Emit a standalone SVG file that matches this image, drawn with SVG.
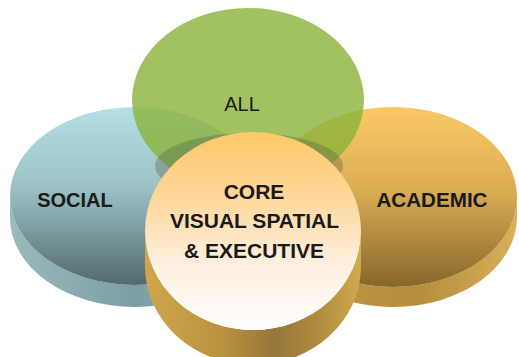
<svg xmlns="http://www.w3.org/2000/svg" width="519" height="357" viewBox="0 0 519 357">
<defs>
<linearGradient id="socTop" x1="0" y1="0" x2="0" y2="1">
<stop offset="0" stop-color="#b4dfe5"/>
<stop offset="0.45" stop-color="#9cc2c6"/>
<stop offset="1" stop-color="#526a6e"/>
</linearGradient>
<linearGradient id="socSide" x1="0" y1="0" x2="1" y2="0">
<stop offset="0" stop-color="#9ab9bd"/>
<stop offset="0.5" stop-color="#7c9ea2"/>
<stop offset="1" stop-color="#9fbec2"/>
</linearGradient>
<linearGradient id="acaTop" x1="0" y1="0" x2="0" y2="1">
<stop offset="0" stop-color="#fac865"/>
<stop offset="0.45" stop-color="#dcae55"/>
<stop offset="1" stop-color="#86672a"/>
</linearGradient>
<linearGradient id="acaSide" x1="0" y1="0" x2="1" y2="0">
<stop offset="0" stop-color="#c59a44"/>
<stop offset="0.6" stop-color="#b58d3c"/>
<stop offset="1" stop-color="#d8b05a"/>
</linearGradient>
<linearGradient id="coreTop" x1="0" y1="0" x2="0" y2="1">
<stop offset="0" stop-color="#fec766"/>
<stop offset="0.35" stop-color="#fdd89c"/>
<stop offset="0.65" stop-color="#fdeedd"/>
<stop offset="1" stop-color="#ffffff"/>
</linearGradient>
<linearGradient id="coreSide" x1="0" y1="0" x2="1" y2="0">
<stop offset="0" stop-color="#cfa64a"/>
<stop offset="0.35" stop-color="#bb9340"/>
<stop offset="0.6" stop-color="#96773a"/>
<stop offset="0.8" stop-color="#b08a3e"/>
<stop offset="1" stop-color="#d2aa50"/>
</linearGradient>
<style>
.lbl{font-family:"Liberation Sans",Arial,sans-serif;fill:#1a1a1a;text-anchor:middle}
.b{font-weight:bold}
</style>
</defs>
<g id="social">
<path d="M10,196 A125,89 0 0 0 260,196 L260,218 A125,89 0 0 1 10,218 Z" fill="url(#socSide)"/>
<ellipse cx="135" cy="196" rx="125" ry="89" fill="url(#socTop)"/>
<text class="lbl b" x="75" y="207" font-size="20">SOCIAL</text>
</g>
<g id="academic">
<path d="M269,197 A124,90 0 0 0 517,197 L517,217 A124,90 0 0 1 269,217 Z" fill="url(#acaSide)"/>
<ellipse cx="393" cy="197" rx="124" ry="90" fill="url(#acaTop)"/>
<text class="lbl b" x="432" y="207" font-size="20.6">ACADEMIC</text>
</g>
<g id="all">
<ellipse cx="248" cy="100" rx="116" ry="92" fill="#8bb33b" fill-opacity="0.8"/>
<ellipse cx="249" cy="166" rx="94" ry="33" fill="#4f5f4a" fill-opacity="0.35"/>
<text class="lbl" x="242" y="111" font-size="20">ALL</text>
</g>
<g id="core">
<path d="M145,231 A108,99 0 0 0 361,231 L361,266 A108,99 0 0 1 145,266 Z" fill="url(#coreSide)"/>
<ellipse cx="253" cy="231" rx="108" ry="99" fill="url(#coreTop)"/>
<text class="lbl b" x="254" y="199" font-size="21">CORE</text>
<text class="lbl b" x="254.5" y="228" font-size="21">VISUAL SPATIAL</text>
<text class="lbl b" x="254" y="257.5" font-size="21">&amp; EXECUTIVE</text>
</g>
<g id="connectors"/>
</svg>
